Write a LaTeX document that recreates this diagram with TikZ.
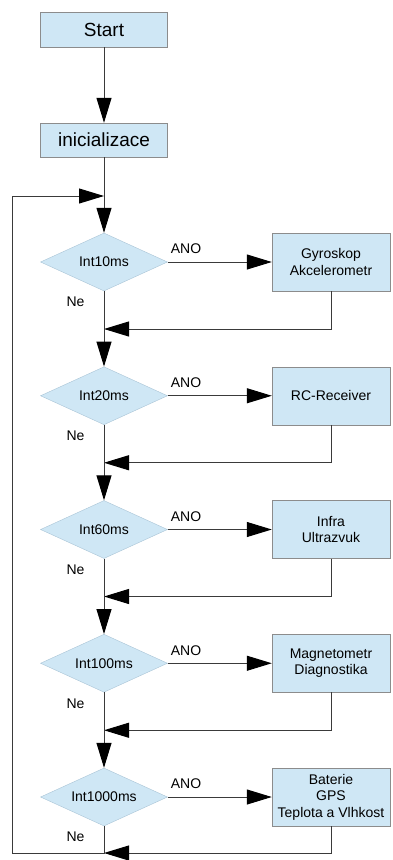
\documentclass[tikz,border=0pt]{standalone}
\usepackage{fontspec}
\setmainfont{Liberation Sans}
\usetikzlibrary{shapes.geometric,arrows.meta}
\definecolor{nodefill}{HTML}{CFE7F5}
\definecolor{boxline}{HTML}{8C8C8C}
\definecolor{diamline}{HTML}{A9C4D6}
\definecolor{linegray}{HTML}{3A3A3A}
\begin{document}
\begin{tikzpicture}[x=1pt,y=-1pt,
  box/.style={draw=boxline, fill=nodefill, minimum width=118pt, minimum height=58pt, inner sep=0pt, align=center, font=\fontsize{14}{16.5}\selectfont},
  bigbox/.style={draw=boxline, fill=nodefill, minimum width=127pt, minimum height=35pt, inner sep=0pt, font=\fontsize{19}{22}\selectfont},
  dec/.style={diamond, draw=diamline, fill=nodefill, minimum width=127pt, minimum height=58pt, inner sep=0pt, aspect=2.2, font=\fontsize{14}{16}\selectfont},
  lab/.style={font=\fontsize{14}{16}\selectfont, inner sep=0pt},
  conn/.style={draw=linegray, line width=1pt},
  arr/.style={conn, -{Triangle[length=25pt,width=15pt,color=black]}}]
\useasboundingbox (0,0) rectangle (392,860);
\node[bigbox] (start) at (104,29.5) {Start};
\node[bigbox, minimum height=34pt] (init) at (104,140) {inicializace};
\coordinate (loopin) at (104,196);
\coordinate (loopL) at (12,196);
\coordinate (loopB) at (12,853);
% decisions
\node[dec] (d1) at (104,262) {Int10ms};
\node[dec] (d2) at (104,395.75) {Int20ms};
\node[dec] (d3) at (104,529.5) {Int60ms};
\node[dec] (d4) at (104,663.25) {Int100ms};
\node[dec] (d5) at (104,797) {Int1000ms};
% boxes
\node[box] (b1) at (331,262) {Gyroskop\\Akcelerometr};
\node[box] (b2) at (331,395.75) {RC-Receiver};
\node[box] (b3) at (331,529.5) {Infra\\Ultrazvuk};
\node[box] (b4) at (331,663.25) {Magnetometr\\Diagnostika};
\node[box] (b5) at (331,797) {Baterie\\GPS\\Teplota a Vlhkost};
% join points
\coordinate (j1) at (104,329);
\coordinate (j2) at (104,462.75);
\coordinate (j3) at (104,596.5);
\coordinate (j4) at (104,730.25);
\coordinate (j5) at (104,853);
% labels
\foreach \k/\y in {1/262,2/395.75,3/529.5,4/663.25,5/797}{
  \node[lab] (ano\k) at (186,\y-13) {ANO};
  \node[lab] (ne\k) at (75.5,\y+40) {Ne};
}
% connectors
\draw[arr] (start) -- (init);
\draw[arr] (init) -- (d1);
\draw[arr] (loopL) -- (loopin);
\foreach \k/\n in {1/2,2/3,3/4,4/5}{
  \draw[arr] (d\k) -- (b\k);
  \draw[arr] (b\k.south) |- (j\k);
  \draw[conn] (d\k) -- (j\k);
  \draw[arr] (j\k) -- (d\n);
}
\draw[arr] (d5) -- (b5);
\draw[arr] (b5.south) |- (j5);
\draw[conn] (d5) -- (j5) -- (loopB) -- (loopL);
\end{tikzpicture}
\end{document}
